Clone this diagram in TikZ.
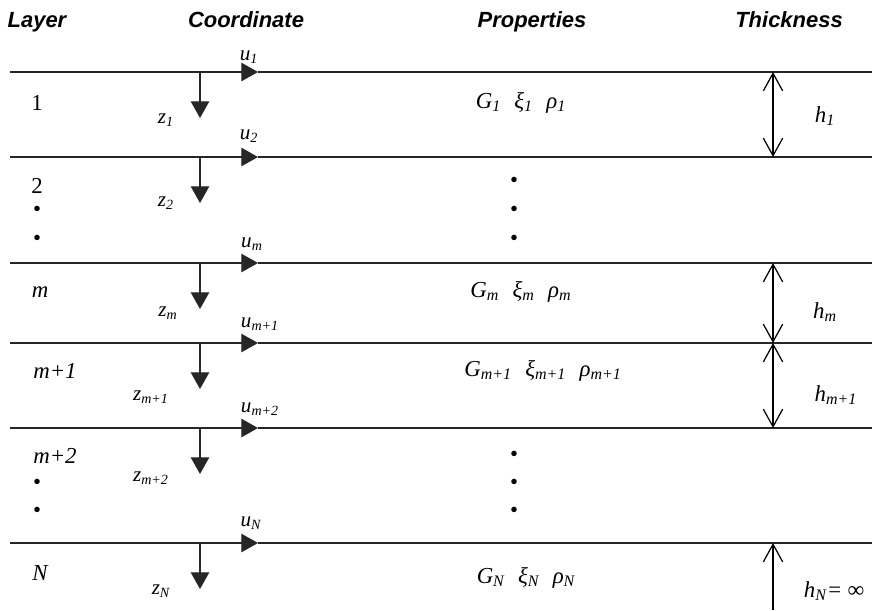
\documentclass[tikz,border=0pt]{standalone}
\usepackage{fontspec}
\setmainfont{Liberation Serif}
\setsansfont{Liberation Sans}
\usetikzlibrary{arrows.meta, positioning}

\newcommand{\lsub}[2]{\textit{#1}\textsubscript{\textit{#2}}}

\begin{document}
\begin{tikzpicture}[
      x=0.02cm, y=-0.02cm,
      every node/.style={font=\fontsize{13}{15}\selectfont\itshape, inner sep=0pt},
      head/.style={font=\sffamily\bfseries\itshape\fontsize{12.5}{15}\selectfont, anchor=base},
      coord/.style={font=\fontsize{12}{14}\selectfont\itshape},
      iface/.style={line width=0.75pt, draw=black!85},
      uarr/.style={iface, -{Triangle[length=9.5pt, width=10.5pt]}},
      zarr/.style={iface, -{Triangle[length=9.5pt, width=10.5pt]}},
      harr/.style={line width=0.7pt, {Straight Barb[length=10pt, width=11pt]}-{Straight Barb[length=10pt, width=11pt]}},
      hend/.style={line width=0.7pt, -{Straight Barb[length=10pt, width=11pt]}}
   ]
      \useasboundingbox (0,0) rectangle (874,610);
      % headers
      \node[head] (hlayer) at (37,27) {Layer};
      \node[head] (hcoord) at (246,27) {Coordinate};
      \node[head] (hprop) at (532,27) {Properties};
      \node[head] (hthick) at (789,27) {Thickness};
      % interfaces
      \foreach \i/\y in {1/72, 2/157, 3/263, 4/343, 5/428, 6/543} {
         \coordinate (L\i) at (10,\y);
         \coordinate (U\i) at (258,\y);
         \coordinate (R\i) at (872,\y);
         \coordinate (Z\i) at (200,\y);
         \coordinate (Zt\i) at (200,\y+46);
         \coordinate (T\i) at (773,\y);
         \draw[uarr] (L\i) -- (U\i);
         \draw[iface] (U\i) -- (R\i);
         \draw[zarr] (Z\i) -- (Zt\i);
      }
      \coordinate (Tbot) at (773,610);
      % coordinate labels
      \node[coord] (u1) at (249,57) {\lsub{u}{1}};
      \node[coord] (u2) at (249,136) {\lsub{u}{2}};
      \node[coord] (um) at (252,244) {\lsub{u}{m}};
      \node[coord] (um1) at (260,324) {\lsub{u}{m+1}};
      \node[coord] (um2) at (260,409) {\lsub{u}{m+2}};
      \node[coord] (uN) at (251,523) {\lsub{u}{N}};
      \node[coord] (z1) at (166,120) {\lsub{z}{1}};
      \node[coord] (z2) at (166,203) {\lsub{z}{2}};
      \node[coord] (zm) at (168,313) {\lsub{z}{m}};
      \node[coord] (zm1) at (151,397) {\lsub{z}{m+1}};
      \node[coord] (zm2) at (151,478) {\lsub{z}{m+2}};
      \node[coord] (zN) at (161,591) {\lsub{z}{N}};
      % layers
      \node (l1) at (37,103) {\upshape 1};
      \node (l2) at (37,186) {\upshape 2};
      \node (l2a) at (37,211) {\upshape •};
      \node (l2b) at (37,240) {\upshape •};
      \node (lm) at (40,292) {m};
      \node (lm1) at (55,371) {m+1};
      \node (lm2) at (55,456) {m+2};
      \node (lm2a) at (37,484) {\upshape •};
      \node (lm2b) at (37,512) {\upshape •};
      \node (lN) at (40,573) {N};
      % properties
      \node (p1) at (521,103) {\lsub{G}{1}\,\, \lsub{ξ}{1}\,\, \lsub{ρ}{1}};
      \node (p2) at (514,182) {\upshape •};
      \node (p2a) at (514,211) {\upshape •};
      \node (p2b) at (514,240) {\upshape •};
      \node (pm) at (521,292) {\lsub{G}{m}\,\, \lsub{ξ}{m}\,\, \lsub{ρ}{m}};
      \node (pm1) at (543,371) {\lsub{G}{m+1}\,\, \lsub{ξ}{m+1}\,\, \lsub{ρ}{m+1}};
      \node (pm2) at (514,456) {\upshape •};
      \node (pm2a) at (514,484) {\upshape •};
      \node (pm2b) at (514,512) {\upshape •};
      \node (pN) at (526,578) {\lsub{G}{N}\,\, \lsub{ξ}{N}\,\, \lsub{ρ}{N}};
      % thickness
      \draw[harr] (T1) -- (T2);
      \draw[harr] (T3) -- (T4);
      \draw[harr] (T4) -- (T5);
      \draw[hend] (Tbot) -- (T6);
      \node (h1) at (825,116) {\lsub{h}{1}};
      \node (hm) at (825,312) {\lsub{h}{m}};
      \node (hm1) at (836,395) {\lsub{h}{m+1}};
      \node (hN) at (834,591) {\lsub{h}{N}= ∞};
   \end{tikzpicture}
\end{document}
